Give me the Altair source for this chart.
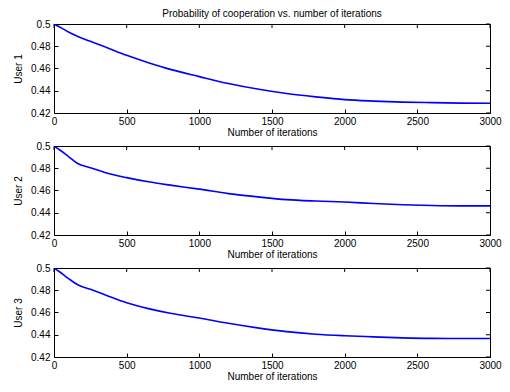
import altair as alt
import pandas as pd

iterations = [0, 50, 100, 160, 250, 350, 500, 650, 800, 1000, 1200, 1400, 1600, 1800, 2000, 2200, 2400, 2600, 2800, 3000]
user1 = [0.5, 0.4965, 0.4928, 0.489, 0.4845, 0.4795, 0.4718, 0.4652, 0.4592, 0.4527, 0.4465, 0.4415, 0.4375, 0.4345, 0.432, 0.4307, 0.4298, 0.4293, 0.4289, 0.4288]
user2 = [0.5, 0.4955, 0.4905, 0.4845, 0.4805, 0.4762, 0.4716, 0.4678, 0.4648, 0.4612, 0.4572, 0.4543, 0.4518, 0.4505, 0.4496, 0.4483, 0.4472, 0.4465, 0.4462, 0.4462]
user3 = [0.5, 0.4955, 0.4905, 0.4852, 0.4808, 0.476, 0.4688, 0.4635, 0.4593, 0.455, 0.4503, 0.4462, 0.4428, 0.4405, 0.4391, 0.4381, 0.4372, 0.4367, 0.4366, 0.4366]

x_ticks = [0, 500, 1000, 1500, 2000, 2500, 3000]
y_ticks = [0.42, 0.44, 0.46, 0.48, 0.5]
titles = ["User 1", "User 2", "User 3"]
main_title = "Probability of cooperation vs. number of iterations"

W, H = 436, 89
FONT = "Liberation Sans"

xscale = alt.Scale(domain=[0, 3000], nice=False, zero=False)
yscale = alt.Scale(domain=[0.42, 0.5], nice=False, zero=False)

xtick_df = pd.DataFrame({"t": x_ticks})
ytick_df = pd.DataFrame({"t": y_ticks})

xaxis = alt.Axis(values=x_ticks, title="Number of iterations", format="d",
                 offset=-4, tickSize=4, domain=False, grid=False,
                 labelPadding=3, titlePadding=1, tickColor="black",
                 labelOverlap=False, labelFlush=False)


def yaxis(label):
    return alt.Axis(values=y_ticks, title=label, format="~g",
                    offset=-4, tickSize=4, domain=False, grid=False,
                    labelPadding=4, titlePadding=7, tickColor="black",
                    labelOverlap=False, labelFlush=False)


def panel(values, label, title=None):
    df = pd.DataFrame({"it": iterations, "p": values})
    ya = yaxis(label)
    line = alt.Chart(df).mark_line(color="#0000ff", strokeWidth=1.6, clip=True,
                                   interpolate="monotone").encode(
        x=alt.X("it:Q", scale=xscale, axis=xaxis),
        y=alt.Y("p:Q", scale=yscale, axis=ya),
    )
    top = alt.Chart(xtick_df).mark_rule(color="black", strokeWidth=1).encode(
        x=alt.X("t:Q", scale=xscale, axis=xaxis), y=alt.value(0), y2=alt.value(4))
    right = alt.Chart(ytick_df).mark_rule(color="black", strokeWidth=1).encode(
        y=alt.Y("t:Q", scale=yscale, axis=ya), x=alt.value(W - 4), x2=alt.value(W))
    ch = alt.layer(line, top, right).properties(width=W, height=H)
    if title:
        ch = ch.properties(title=alt.TitleParams(main_title, anchor="middle", frame="group",
                                                 fontSize=10, fontWeight="normal", font=FONT,
                                                 offset=0, color="black"))
    return ch


chart = alt.vconcat(
    panel(user1, titles[0], True),
    panel(user2, titles[1]),
    panel(user3, titles[2]),
    spacing=2,
).properties(
    padding={"left": 5, "top": 0, "right": 0, "bottom": 0}
).configure_view(
    stroke="black", strokeWidth=1
).configure_axis(
    labelFont=FONT, titleFont=FONT, labelFontSize=10, titleFontSize=10,
    titleFontWeight="normal", labelColor="black", titleColor="black"
)

chart.save("out.html", embed_options={"renderer": "svg", "actions": False})
